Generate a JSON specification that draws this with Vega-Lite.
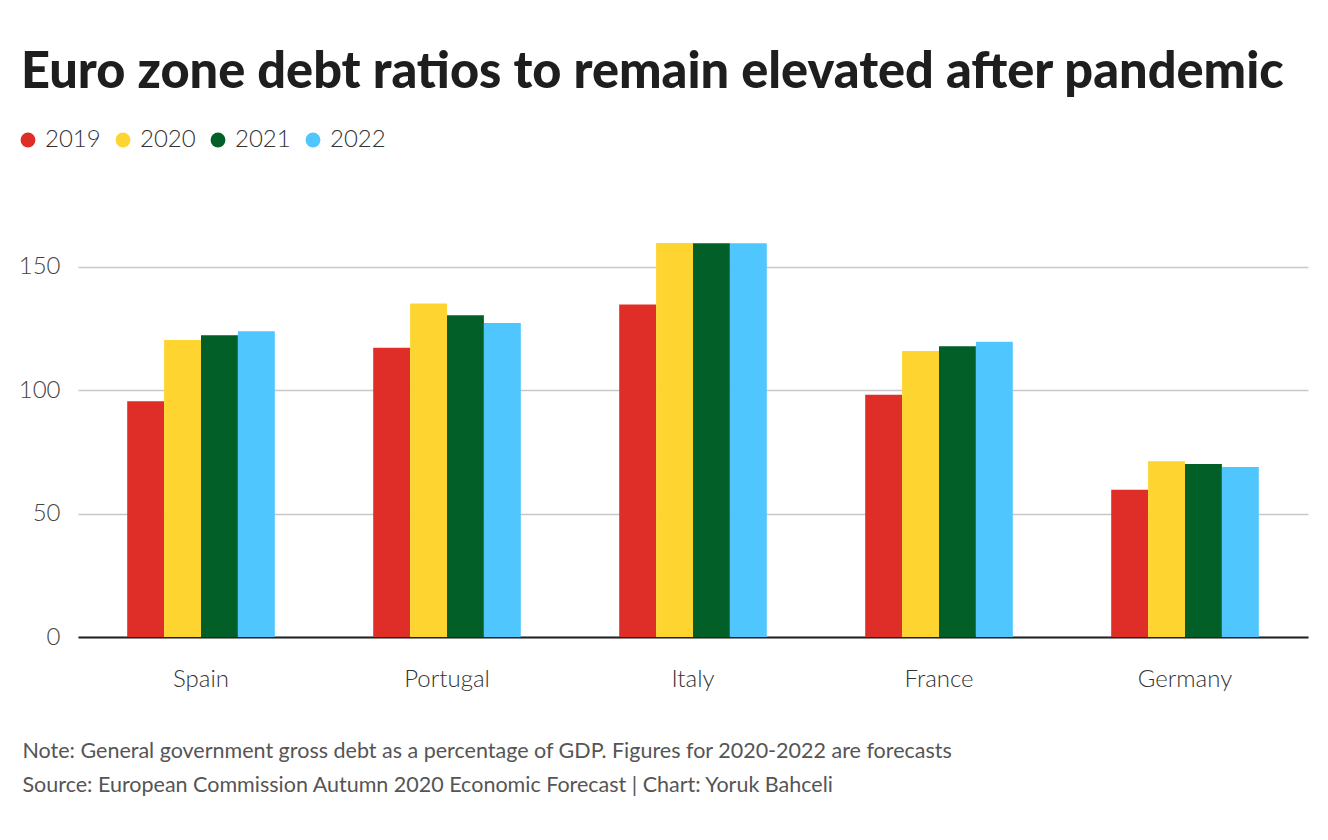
{
  "$schema": "https://vega.github.io/schema/vega-lite/v6.json",
  "width": 1230,
  "height": 432,
  "autosize": {"type": "none"},
  "padding": {"left": 78, "top": 205, "right": 20, "bottom": 203},
  "background": "white",
  "title": {
    "text": "Euro zone debt ratios to remain elevated after pandemic",
    "anchor": "start",
    "frame": "group",
    "dx": -57,
    "offset": 30,
    "font": "Lato",
    "fontSize": 50.5,
    "fontWeight": 900,
    "color": "#1e1e1e"
  },
  "data": {
    "values": [
      {"country": "Spain", "year": "2019", "debt": 95.5},
      {"country": "Spain", "year": "2020", "debt": 120.3},
      {"country": "Spain", "year": "2021", "debt": 122.2},
      {"country": "Spain", "year": "2022", "debt": 123.9},
      {"country": "Portugal", "year": "2019", "debt": 117.2},
      {"country": "Portugal", "year": "2020", "debt": 135.1},
      {"country": "Portugal", "year": "2021", "debt": 130.3},
      {"country": "Portugal", "year": "2022", "debt": 127.2},
      {"country": "Italy", "year": "2019", "debt": 134.7},
      {"country": "Italy", "year": "2020", "debt": 159.6},
      {"country": "Italy", "year": "2021", "debt": 159.5},
      {"country": "Italy", "year": "2022", "debt": 159.5},
      {"country": "France", "year": "2019", "debt": 98.1},
      {"country": "France", "year": "2020", "debt": 115.9},
      {"country": "France", "year": "2021", "debt": 117.8},
      {"country": "France", "year": "2022", "debt": 119.6},
      {"country": "Germany", "year": "2019", "debt": 59.6},
      {"country": "Germany", "year": "2020", "debt": 71.2},
      {"country": "Germany", "year": "2021", "debt": 70.1},
      {"country": "Germany", "year": "2022", "debt": 68.9}
    ]
  },
  "mark": {"type": "bar"},
  "encoding": {
    "x": {
      "field": "country",
      "type": "nominal",
      "sort": ["Spain", "Portugal", "Italy", "France", "Germany"],
      "scale": {"paddingInner": 0.4, "paddingOuter": 0.2},
      "axis": {
        "title": ["Note: General government gross debt as a percentage of GDP. Figures for 2020-2022 are forecasts", "Source: European Commission Autumn 2020 Economic Forecast | Chart: Yoruk Bahceli"],
        "titleAnchor": "start",
        "titleAlign": "left",
        "titleBaseline": "top",
        "titleX": -56,
        "titleY": 103,
        "titleFont": "Lato",
        "titleFontSize": 21.5,
        "titleFontWeight": 400,
        "titleColor": "#555555",
        "titleLineHeight": 34,
        "labelAngle": 0,
        "labelFont": "Lato",
        "labelFontSize": 24,
        "labelFontWeight": 300,
        "labelColor": "#333333",
        "labelPadding": 30,
        "ticks": false,
        "domain": true,
        "domainColor": "#222222",
        "domainWidth": 2
      }
    },
    "xOffset": {
      "field": "year",
      "type": "nominal",
      "scale": {"paddingInner": 0, "paddingOuter": 0}
    },
    "y": {
      "field": "debt",
      "type": "quantitative",
      "scale": {"domain": [0, 175], "nice": false},
      "axis": {
        "title": null,
        "values": [0, 50, 100, 150],
        "domain": false,
        "ticks": false,
        "grid": true,
        "gridColor": "#c8c8c8",
        "gridWidth": 1.5,
        "labelFont": "Lato",
        "labelFontSize": 24,
        "labelFontWeight": 300,
        "labelColor": "#444444",
        "labelPadding": 18
      }
    },
    "color": {
      "field": "year",
      "type": "nominal",
      "scale": {
        "domain": ["2019", "2020", "2021", "2022"],
        "range": ["#df2e28", "#fed530", "#025f27", "#4fc6fe"]
      },
      "legend": {
        "title": null,
        "orient": "none",
        "direction": "horizontal",
        "legendX": -62,
        "legendY": -77,
        "symbolType": "circle",
        "symbolSize": 220,
        "symbolStrokeWidth": 0,
        "labelFont": "Lato",
        "labelFontSize": 24,
        "labelFontWeight": 300,
        "labelColor": "#333333",
        "labelOffset": 5,
        "columnPadding": 10
      }
    }
  },
  "config": {
    "view": {"stroke": null},
    "axis": {"gridDash": []}
  }
}
